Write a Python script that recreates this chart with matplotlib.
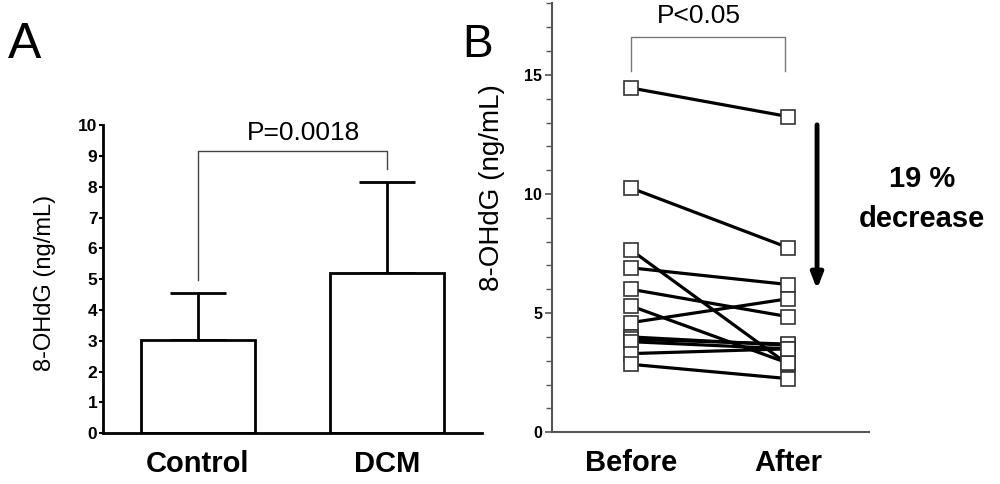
import numpy as np
import matplotlib
matplotlib.use('Agg')
import matplotlib.pyplot as plt
from matplotlib.ticker import MultipleLocator

plt.rcParams['font.family'] = ['Liberation Sans', 'DejaVu Sans']

# panel A: group means with upward SD
groups     = ['Control', 'DCM']
means      = [3.03, 5.2]
sd_up      = [1.52, 2.95]
p_text_a   = 'P=0.0018'
ylabel     = '8-OHdG (ng/mL)'

# panel B: paired values, before / after
times  = ['Before', 'After']
before = [14.45, 10.25, 7.65, 6.9, 6.0, 5.3, 4.6, 4.0, 3.9, 3.8, 3.3, 2.85]
after  = [13.25, 7.75, 2.85, 6.2, 4.85, 2.9, 5.6, 3.65, 3.7, 3.5, 3.5, 2.25]
p_text_b = 'P<0.05'
change   = ['19 %', 'decrease']

fig = plt.figure(figsize=(10, 4.84), dpi=100)

# ---- A
ax = fig.add_axes([0.103, 0.105, 0.379, 0.636])
x = np.arange(len(groups))
ax.bar(x, means, width=0.6, color='white', edgecolor='black', linewidth=2, zorder=2)
ax.errorbar(x, means, yerr=[np.zeros(len(sd_up)), sd_up], fmt='none', ecolor='black',
            elinewidth=2, capsize=20, capthick=2, zorder=1)
ax.set_xlim(-0.5, 1.5)
ax.set_ylim(0, 10)
ax.set_yticks(range(0, 11))
ax.set_yticklabels([str(v) for v in range(0, 11)], fontsize=12.5, fontweight='bold')
ax.set_xticks(x)
ax.set_xticklabels(groups, fontsize=21, fontweight='bold')
ax.tick_params(axis='x', length=0, pad=12)
ax.tick_params(axis='y', length=3, width=1.5, pad=1)
for s in ['top', 'right']:
    ax.spines[s].set_visible(False)
ax.spines['left'].set_linewidth(2)
ax.spines['bottom'].set_linewidth(2)
ax.set_ylabel(ylabel, fontsize=17)
ax.yaxis.set_label_coords(-0.125, 0.487)

# significance bracket
ax.plot([0, 0, 1, 1], [4.98, 9.17, 9.17, 8.57], color='#444444', lw=1, clip_on=False)
ax.text(0.56, 9.74, p_text_a, ha='center', va='center', fontsize=19, clip_on=False)

fig.text(0.008, 0.880, 'A', fontsize=36, ha='left', va='baseline')

# ---- B
bx = fig.add_axes([0.552, 0.107, 0.317, 0.886])
for b, a in zip(before, after):
    bx.plot([0, 1], [b, a], color='black', lw=2.3, zorder=2)
xs = np.zeros(len(before))
bx.plot(xs, before, 's', ms=10, mfc='white', mec='#333333', mew=1.2, ls='none', zorder=3)
bx.plot(xs + 1, after, 's', ms=10, mfc='white', mec='#333333', mew=1.2, ls='none', zorder=3)
bx.set_xlim(-0.503, 1.516)
bx.set_ylim(0, 18)
bx.set_yticks([0, 5, 10, 15])
bx.set_yticklabels(['0', '5', '10', '15'], fontsize=11.5, fontweight='bold')
bx.yaxis.set_minor_locator(MultipleLocator(1))
bx.set_xticks([0, 1])
bx.set_xticklabels(times, fontsize=21, fontweight='bold')
bx.tick_params(axis='x', length=0, pad=12)
bx.tick_params(axis='y', which='major', length=5, width=1.2, pad=2, color='#555555')
bx.tick_params(axis='y', which='minor', length=4, width=1, color='#555555')
for s in ['top', 'right']:
    bx.spines[s].set_visible(False)
bx.spines['left'].set_color('#555555')
bx.spines['bottom'].set_color('#555555')
bx.spines['left'].set_linewidth(1.5)
bx.spines['bottom'].set_linewidth(1.5)
bx.set_ylabel(ylabel, fontsize=20)
bx.yaxis.set_label_coords(-0.148, 0.571)

bx.plot([0, 0, 0.98, 0.98], [15.15, 16.6, 16.6, 15.15], color='#777777', lw=1, clip_on=False)
bx.text(0.43, 17.45, p_text_b, ha='center', va='center', fontsize=19, clip_on=False)

bx.annotate('', xy=(1.185, 6.0), xytext=(1.185, 12.9),
            arrowprops=dict(arrowstyle='-|>,head_width=0.35,head_length=0.9',
                            color='black', lw=3.5, shrinkA=0, shrinkB=0),
            annotation_clip=False)
bx.text(1.853, 10.63, change[0], ha='center', va='center', fontsize=21, fontweight='bold')
bx.text(1.853, 8.95, change[1], ha='center', va='center', fontsize=21, fontweight='bold')

fig.text(0.462, 0.882, 'B', fontsize=33, ha='left', va='baseline')

fig.savefig('out.png', dpi=100)
